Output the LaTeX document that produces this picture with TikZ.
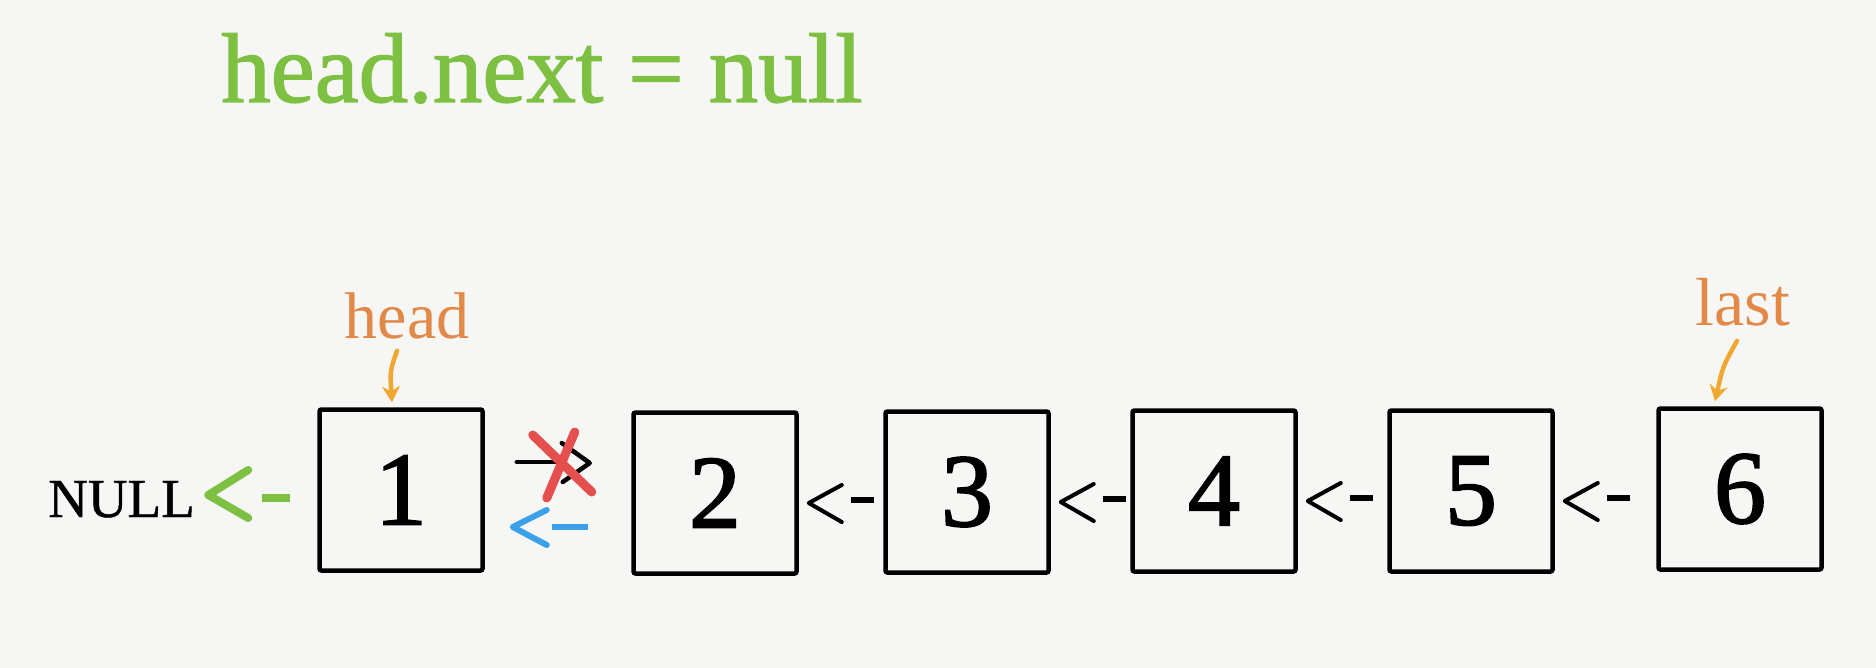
\documentclass[tikz,border=0pt]{standalone}
\usepackage{fontspec}
\setmainfont{Liberation Serif}
\newfontfamily\medfont[FakeBold=1.3]{Liberation Serif}
\newfontfamily\digfont[FakeBold=1.8]{Liberation Serif}
\newfontfamily\nullfnt[FakeBold=0.8]{Liberation Serif}
\usetikzlibrary{arrows.meta,calc}
\definecolor{paper}{RGB}{246,246,244}
\definecolor{tgreen}{RGB}{125,192,66}
\definecolor{lorange}{RGB}{226,137,72}
\definecolor{aorange}{RGB}{240,168,48}
\definecolor{xred}{RGB}{229,80,79}
\definecolor{ablue}{RGB}{58,160,234}
\begin{document}
\begin{tikzpicture}[x=1pt,y=-1pt,
  listbox/.style={draw=black, line width=4.5pt, rounded corners=2pt, minimum width=163pt, minimum height=161pt, inner sep=0pt, font=\digfont\fontsize{104}{110}\selectfont},
  lbl/.style={text=lorange, inner sep=0pt, anchor=base},
  ptr/.style={draw=aorange, line width=4.5pt, line cap=round, -{Stealth[length=16pt,width=18pt]}},
  glyph/.style={line width=4pt, line cap=round, line join=round},
  dashglyph/.style={line width=6pt},
]
\fill[paper] (0,0) rectangle (1876,668);
\useasboundingbox (0,0) rectangle (1876,668);

% title
\node[text=tgreen, inner sep=0pt, anchor=base west, font=\medfont\fontsize{99}{104}\selectfont] (title) at (221,102) {head.next = null};

% list nodes
\node[listbox] (b1) at (401,490) {1};
\node[listbox] (b2) at (715,493) {2};
\node[listbox] (b3) at (967,492) {3};
\node[listbox] (b4) at (1214,491) {4};
\node[listbox] (b5) at (1471,491) {5};
\node[listbox] (b6) at (1740,489) {6};

% labels
\node[inner sep=0pt, anchor=base west, font=\nullfnt\fontsize{55}{60}\selectfont] (null) at (48,517) {NULL};
\node[lbl, font=\fontsize{66}{70}\selectfont] (hl) at (407,338) {head};
\node[lbl, font=\fontsize{68}{72}\selectfont] (ll) at (1743,325) {last};

% pointers
\draw[ptr] ($(hl.south)+(-10,12)$) .. controls ($(hl.south)+(-17,32)$) .. ($(b1.north)+(-9,-5)$);
\draw[ptr] ($(ll.south)+(-6,15)$) .. controls ($(ll.south)+(-20,40)$) .. ($(b6.north)+(-25,-5)$);

% black reversed links
\foreach \a in {b2,b3,b4,b5}{
  \draw[glyph] ($(\a.east)+(43,-8)$) -- ($(\a.east)+(10,10)$) -- ($(\a.east)+(43,29)$);
  \draw[dashglyph] ($(\a.east)+(52,7)$) -- ($(\a.east)+(75,7)$);
}

% green link to NULL
\draw[glyph, draw=tgreen, line width=8pt] ($(b1.west)+(-69,-20)$) -- ($(b1.west)+(-109,5)$) -- ($(b1.west)+(-69,28)$);
\draw[draw=tgreen, line width=8pt] ($(b1.west)+(-55,8)$) -- ($(b1.west)+(-27,8)$);

% crossed old link 1 -> 2
\draw[glyph, line width=4.5pt] ($(b1.east)+(32,-28)$) -- ($(b1.east)+(75,-28)$);
\draw[glyph, line width=4.5pt] ($(b1.east)+(77,-47)$) -- ($(b1.east)+(105,-27)$) -- ($(b1.east)+(78,-8)$);
\draw[draw=xred, line width=9pt, line cap=round] ($(b1.east)+(48,-55)$) -- ($(b1.east)+(107,2)$);
\draw[draw=xred, line width=9pt, line cap=round] ($(b1.east)+(90,-58)$) -- ($(b1.east)+(62,8)$);

% new blue link 2 -> 1
\draw[glyph, draw=ablue, line width=6pt] ($(b1.east)+(62,20)$) -- ($(b1.east)+(28,37)$) -- ($(b1.east)+(62,55)$);
\draw[draw=ablue, line width=6pt] ($(b1.east)+(67,37)$) -- ($(b1.east)+(103,37)$);
\end{tikzpicture}
\end{document}
